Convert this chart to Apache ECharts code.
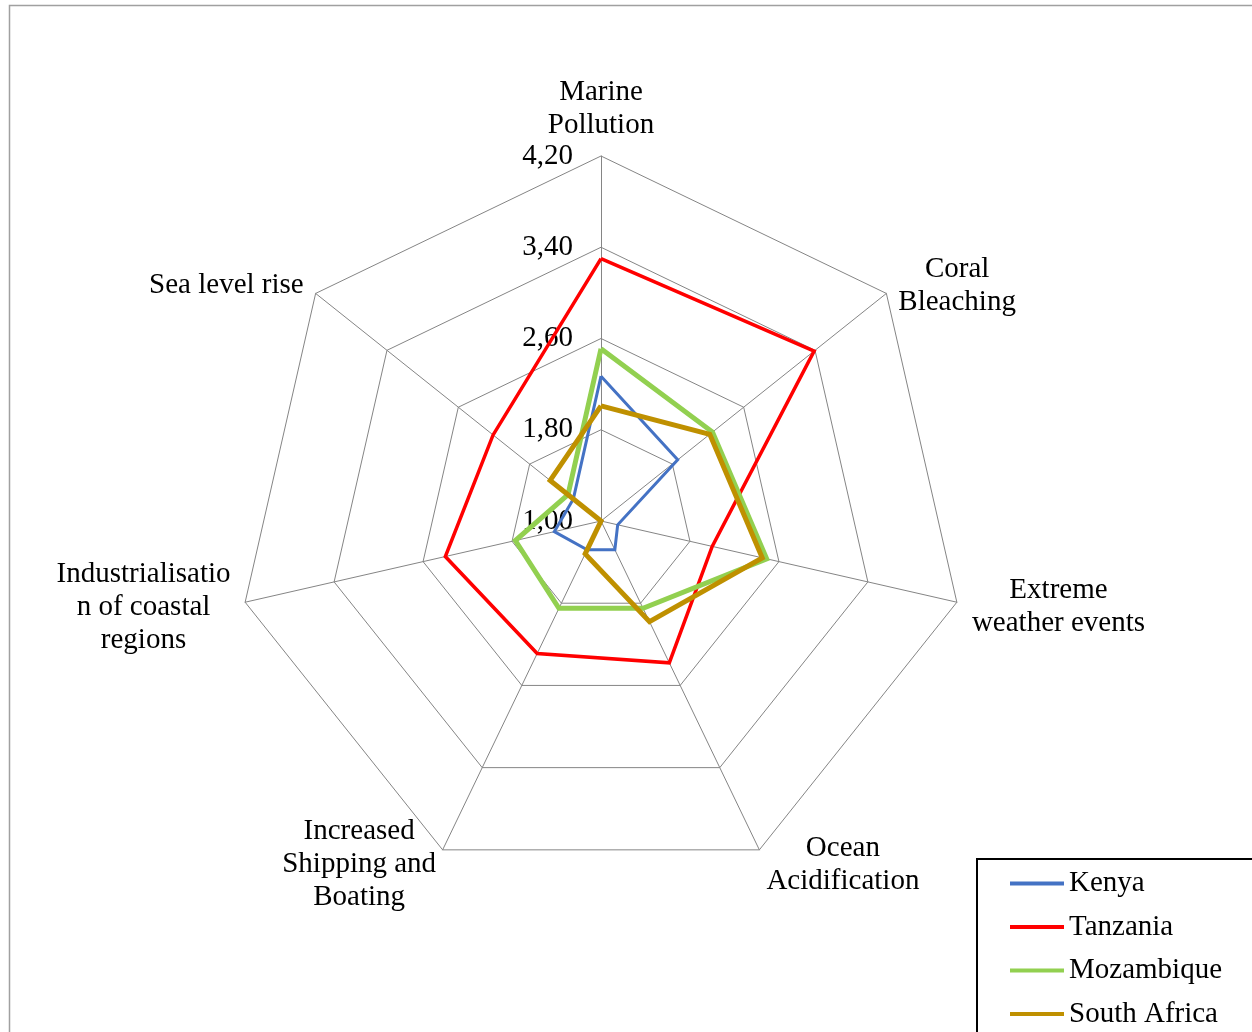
<!DOCTYPE html>
<html><head><meta charset="utf-8">
<script src="https://cdn.jsdelivr.net/npm/echarts@6/dist/echarts.min.js"></script>
<style>html,body{margin:0;padding:0;background:#fff}#c{width:1252px;height:1032px}</style>
</head><body><div id="c"></div>
<script>
// ---- data (clockwise from top, as in the reference) ----
const categories = ['Marine Pollution','Coral Bleaching','Extreme weather events','Ocean Acidification','Increased Shipping and Boating','Industrialisation of coastal regions','Sea level rise'];
const categoryLabels = [['Marine','Pollution'],['Coral','Bleaching'],['Extreme','weather events'],['Ocean','Acidification'],['Increased','Shipping and','Boating'],['Industrialisatio','n of coastal','regions'],['Sea level rise']];
const seriesNames = ['Kenya','Tanzania','Mozambique','South Africa'];
const kenya      = [2.27, 1.86, 1.15, 1.28, 1.28, 1.42, 1.31];
const tanzania   = [3.30, 3.39, 2.00, 2.38, 2.29, 2.40, 2.21];
const mozambique = [2.51, 2.25, 2.49, 1.85, 1.85, 1.77, 1.37];
const southAfrica= [2.01, 2.22, 2.45, 1.98, 1.32, 1.00, 1.57];
const axisMin = 1.0, axisMax = 4.2, axisSplit = 4;

const seriesValues = [kenya, tanzania, mozambique, southAfrica];
const colors = ['#4472C4','#FF0000','#92D050','#BF9000'];
const widths = [3, 3.5, 5, 5];

const FONT = '"Liberation Serif","Times New Roman",serif';
const FS = 29;
// ECharts lays radar indicators counter-clockwise; reorder to get clockwise layout
const order = [0,6,5,4,3,2,1];
const ctx = document.createElement('canvas').getContext('2d');
ctx.font = FS + 'px "Liberation Serif"';
const rich = {};
const nameToKey = {};
categories.forEach((c, i) => {
  const w = Math.max(...categoryLabels[i].map(t => ctx.measureText(t).width));
  rich['l' + i] = {width: Math.ceil(w), align: 'center', fontFamily: FONT, fontSize: FS, lineHeight: 33, color: '#000'};
  nameToKey[c] = i;
});
const indicator = order.map((k, j) => {
  const o = {name: categories[k], min: axisMin, max: axisMax};
  if (j === 0) { o.axisLabel = {show: true}; o.nameGap = 13; }
  return o;
});

const chart = echarts.init(document.getElementById('c'), null, {renderer: 'canvas'});
chart.setOption({
  animation: false,
  backgroundColor: '#fff',
  graphic: [
    {type: 'rect', shape: {x: 9.5, y: 5.5, width: 1400, height: 1400}, style: {fill: 'none', stroke: '#a0a0a0', lineWidth: 1.5}, z: -10},
    {type: 'rect', shape: {x: 977, y: 859, width: 400, height: 400}, style: {fill: '#fff', stroke: '#000', lineWidth: 2}, z: -5}
  ],
  legend: {
    orient: 'vertical', left: 1010, top: 868.5, padding: 0,
    itemWidth: 54, itemHeight: 4, itemGap: 13.5, icon: 'rect',
    selectedMode: false,
    textStyle: {fontFamily: FONT, fontSize: FS, color: '#000', lineHeight: 30},
    data: seriesNames
  },
  radar: {
    center: [601, 521], radius: 365, startAngle: 90, splitNumber: axisSplit, shape: 'polygon',
    indicator: indicator,
    nameGap: 15,
    axisName: {
      color: '#000', fontFamily: FONT, fontSize: FS, lineHeight: 33, padding: [3, 0, 0, 0],
      formatter: function (name) {
        const i = nameToKey[name];
        return categoryLabels[i].map(t => '{l' + i + '|' + t + '}').join('\n');
      },
      rich: rich
    },
    axisLine: {lineStyle: {color: '#858585', width: 1}},
    splitLine: {lineStyle: {color: '#858585', width: 1}},
    splitArea: {show: false},
    axisTick: {show: false},
    axisLabel: {
      show: false, margin: 28, color: '#000', fontFamily: FONT, fontSize: FS, padding: [4, 0, 0, 0],
      formatter: v => v.toFixed(2).replace('.', ',')
    }
  },
  series: seriesNames.map((n, s) => ({
    type: 'radar', name: n, symbol: 'none',
    lineStyle: {color: colors[s], width: widths[s], join: 'miter'},
    itemStyle: {color: colors[s]},
    data: [{name: n, value: order.map(k => seriesValues[s][k])}]
  }))
});
</script></body></html>
